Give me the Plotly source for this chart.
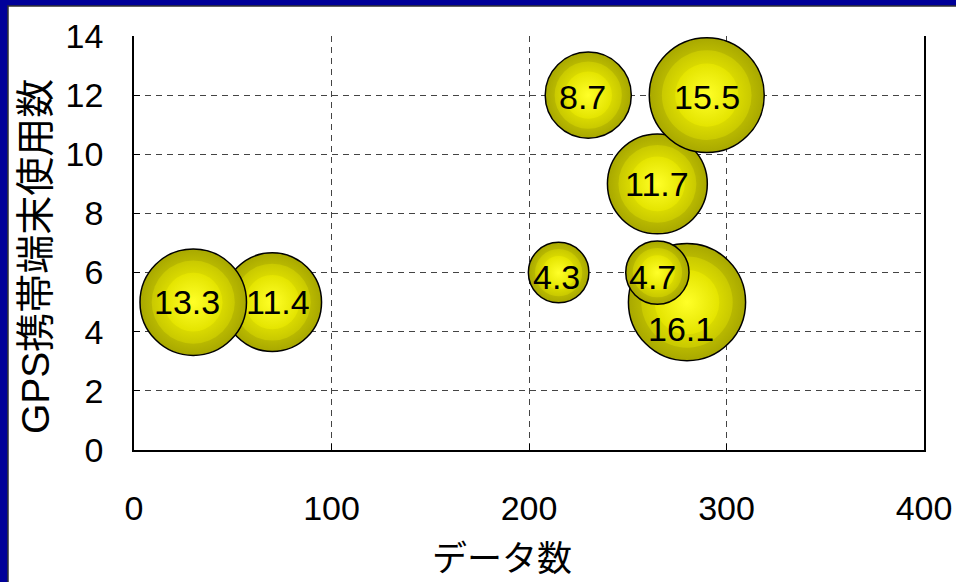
import plotly.graph_objects as go

# ---- data ----
x_data = [70, 30, 265, 290, 230, 215, 280, 265]          # データ数
y_gps = [5, 5, 9, 12, 12, 6, 5, 6]                       # GPS携帯端末使用数
bubble_vals = [11.4, 13.3, 11.7, 15.5, 8.7, 4.3, 16.1, 4.7]
bubble_labels = ["11.4", "13.3", "11.7", "15.5", "8.7", "4.3", "16.1", "4.7"]
x_ticks = [0, 100, 200, 300, 400]
y_ticks = [0, 2, 4, 6, 8, 10, 12, 14]

# label nudges (style only, pixels)
label_xshift = [6, -6, 0, 0, -6, -2, -6, -5]
label_yshift = [0, 0, 0, -2, -2, -4, -27, -4]

# shading bands (style only): diameter factor, edge colour, centre colour
band_scale = [1.0, 0.78, 0.55]
band_edge = ["#A8A800", "#C9C900", "#E4E400"]
band_center = ["#F2F200", "#FFFF00", "#FFFF28"]
band_line = [1.5, 0, 0]

W, H = 956, 582
ML, MR, MT, MB = 134, 32, 36, 132
PW = W - ML - MR
PH = H - MT - MB
SIZEREF = 2 / (29.2 ** 2)


def pxx(px):
    return (px - ML) / PW


def pxy(py):
    return (H - MB - py) / PH


NUM_FONT = "Liberation Sans, Arial, sans-serif"
JP_FONT = "Liberation Sans, Noto Sans CJK JP, sans-serif"

fig = go.Figure()
for xv, yv, val in zip(x_data, y_gps, bubble_vals):
    n = len(band_scale)
    fig.add_trace(go.Scatter(
        x=[xv] * n, y=[yv] * n, mode="markers",
        marker=dict(
            size=[val * s * s for s in band_scale],
            sizemode="area", sizeref=SIZEREF,
            color=band_edge,
            gradient=dict(type="radial", color=band_center),
            line=dict(color="black", width=band_line),
            opacity=1,
        ),
        cliponaxis=False,
        hoverinfo="skip", showlegend=False,
    ))

annotations = []
for xv, yv, lab, dx, dy in zip(x_data, y_gps, bubble_labels, label_xshift, label_yshift):
    annotations.append(dict(
        x=xv, y=yv, xref="x", yref="y", text=lab, showarrow=False,
        xshift=dx, yshift=dy,
        font=dict(family=NUM_FONT, size=34, color="black"),
    ))

annotations.append(dict(
    x=pxx(502), y=pxy(558), xref="paper", yref="paper", text="データ数",
    showarrow=False, xanchor="center", yanchor="middle",
    font=dict(family=JP_FONT, size=35, color="black"),
))
annotations.append(dict(
    x=pxx(35), y=pxy(257), xref="paper", yref="paper", text="GPS携帯端末使用数",
    showarrow=False, xanchor="center", yanchor="middle", textangle=-90,
    font=dict(family=JP_FONT, size=39, color="black"),
))

shapes = [
    dict(type="rect", xref="paper", yref="paper", layer="below",
         x0=pxx(8), x1=pxx(W + 20), y0=pxy(H + 20), y1=pxy(6),
         fillcolor="white", line=dict(color="#333333", width=1.5)),
]

axis_common = dict(
    showgrid=True, gridcolor="#444444", gridwidth=1, griddash="6px,5px",
    showline=True, linecolor="black", linewidth=1.5,
    ticks="inside", ticklen=6, tickcolor="black", tickwidth=1,
    zeroline=False, automargin=False,
    tickfont=dict(family=NUM_FONT, size=34, color="black"),
)

fig.update_layout(
    template="none",
    width=W, height=H,
    margin=dict(l=ML, r=MR, t=MT, b=MB, pad=0, autoexpand=False),
    paper_bgcolor="#000099",
    plot_bgcolor="white",
    showlegend=False,
    xaxis=dict(range=[0, 400], tickvals=x_ticks, mirror=False,
               ticklabelstandoff=27, **axis_common),
    yaxis=dict(range=[0, 14], tickvals=y_ticks, mirror=True,
               ticklabelstandoff=22, **axis_common),
    annotations=annotations,
    shapes=shapes,
)

fig.write_html(
    "out.html",
    config={"displayModeBar": False},
    post_script="document.body.style.margin='0';document.body.style.overflow='hidden';",
)
